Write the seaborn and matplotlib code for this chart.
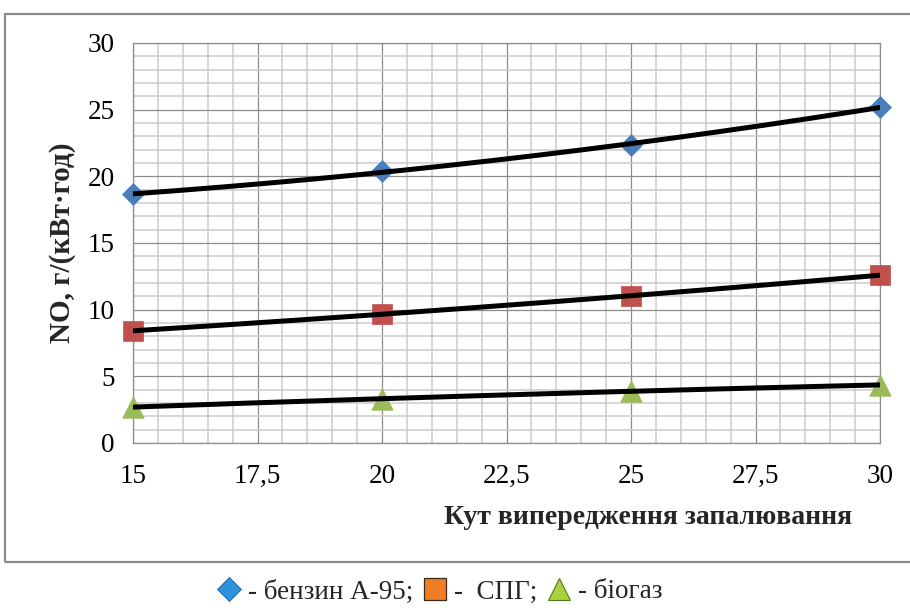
import numpy as np
import pandas as pd
import matplotlib
matplotlib.use("Agg")
import matplotlib.pyplot as plt
from matplotlib.lines import Line2D
from matplotlib.patches import Rectangle
from matplotlib.ticker import MultipleLocator, FuncFormatter
import seaborn as sns

# Ignition advance angle and NO emissions for three fuels
angle = [15, 20, 25, 30]
no_petrol = [18.65, 20.4, 22.35, 25.2]
no_lpg = [8.4, 9.7, 11.0, 12.6]
no_biogas = [2.7, 3.3, 3.9, 4.35]

fuel_labels = ["- бензин А-95;", "-  СПГ;", "- біогаз"]
x_label = "Кут випередження запалювання"
y_label = "NO, г/(кВт·год)"

sns.set_theme(style="white")
plt.rcParams["font.family"] = ["Liberation Serif", "DejaVu Serif"]
plt.rcParams["axes.unicode_minus"] = False

fig = plt.figure(figsize=(9.10, 6.12), dpi=100)
ax = fig.add_axes([133 / 910, 1 - 443 / 612, 747 / 910, 400 / 612])

major_c = "#8c8c8c"
minor_c = "#cbcbcb"

series = [
    (no_petrol, "D", 125, "#4a7ebb"),
    (no_lpg, "s", 225, "#c0504d"),
    (no_biogas, "^", 240, "#9bbb59"),
]

x_fit = np.linspace(angle[0], angle[-1], 200)
for values, marker, size, color in series:
    df = pd.DataFrame({"angle": angle, "no": values})
    sns.scatterplot(data=df, x="angle", y="no", marker=marker, s=size,
                    color=color, edgecolor=color, linewidth=0.5,
                    ax=ax, zorder=4, clip_on=False)
    coef = np.polyfit(angle, values, 2)
    trend = pd.DataFrame({"angle": x_fit, "no": np.polyval(coef, x_fit)})
    sns.lineplot(data=trend, x="angle", y="no", color="black", linewidth=3.6,
                 ax=ax, zorder=5)

ax.set_xlim(15, 30)
ax.set_ylim(0, 30)
ax.xaxis.set_major_locator(MultipleLocator(2.5))
ax.xaxis.set_minor_locator(MultipleLocator(0.5))
ax.yaxis.set_major_locator(MultipleLocator(5))
ax.yaxis.set_minor_locator(MultipleLocator(1))
ax.xaxis.set_major_formatter(FuncFormatter(lambda v, p: f"{v:g}".replace(".", ",")))
ax.yaxis.set_major_formatter(FuncFormatter(lambda v, p: f"{v:g}"))

ax.grid(which="minor", color=minor_c, linewidth=1.1, zorder=0)
ax.grid(which="major", color=major_c, linewidth=0.9, zorder=1)
ax.set_axisbelow(True)
for side in ax.spines.values():
    side.set_color(major_c)
    side.set_linewidth(0.9)

ax.tick_params(axis="both", which="major", direction="out", colors=major_c,
               labelcolor="black", labelsize=19.5, width=0.9)
ax.tick_params(axis="y", which="major", length=7, pad=6)
ax.tick_params(axis="x", which="major", length=6, pad=9)
ax.tick_params(which="minor", length=0)

ax.set_ylabel(y_label, fontsize=21, fontweight="bold")
ax.yaxis.set_label_coords((62 - 133) / 747, 0.5)
ax.yaxis.label.set_va("center")
ax.set_xlabel(x_label, fontsize=20, fontweight="bold")
ax.xaxis.set_label_coords((648 - 133) / 747, -(517 - 443) / 400)
ax.xaxis.label.set_va("center")

# outer frame around the chart area
fig.patches.append(Rectangle((5 / 910, 1 - 562 / 612), 910 / 910, (562 - 14) / 612,
                             transform=fig.transFigure, fill=False,
                             edgecolor="#8a8a8a", linewidth=1.6))

handles = [
    Line2D([], [], linestyle="none", marker="D", markersize=12,
           markerfacecolor="#2a93dc", markeredgecolor="#1d5f96", markeredgewidth=0.6),
    Line2D([], [], linestyle="none", marker="s", markersize=15.5,
           markerfacecolor="#f07e26", markeredgecolor="#3a2a1a", markeredgewidth=0.9),
    Line2D([], [], linestyle="none", marker="^", markersize=16.5,
           markerfacecolor="#a8d13c", markeredgecolor="#4e7a1c", markeredgewidth=0.8),
]
fig.legend(handles, fuel_labels, loc="center", bbox_to_anchor=(440 / 910, 1 - 592 / 612),
           ncol=3, frameon=False, fontsize=19.5, handletextpad=0.3, columnspacing=0.4,
           handlelength=0.8, borderpad=0)

fig.savefig("out.png", dpi=100)
